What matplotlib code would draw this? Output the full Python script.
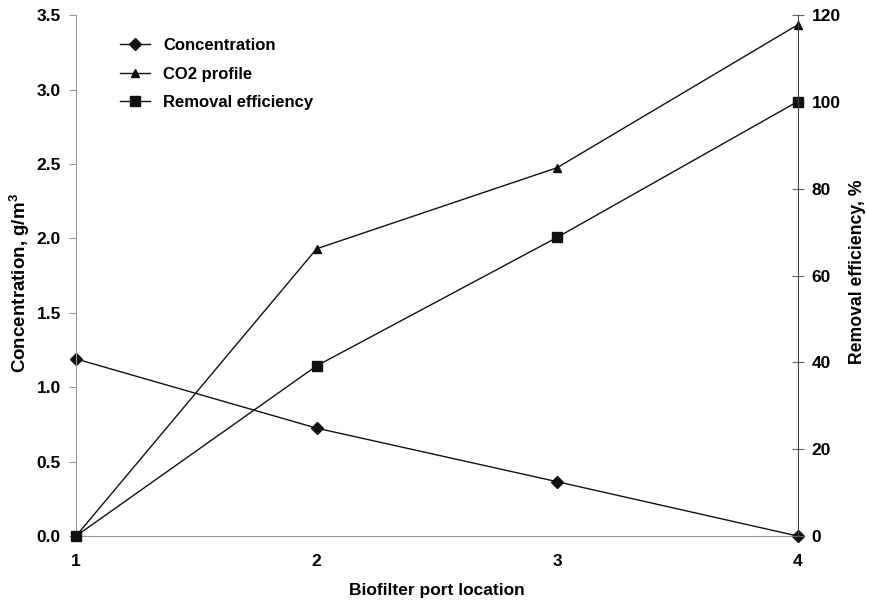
import matplotlib
matplotlib.use("Agg")
import matplotlib.pyplot as plt

plt.rcParams['font.family'] = ['Liberation Sans', 'DejaVu Sans']
plt.rcParams['font.weight'] = 'bold'
plt.rcParams['mathtext.default'] = 'regular'

ports = [1, 2, 3, 4]
concentration = [1.19, 0.725, 0.365, 0.0]
co2_profile = [0.0, 1.93, 2.475, 3.435]
removal_eff = [0.0, 39.2, 68.8, 100.1]

fig = plt.figure(figsize=(8.69, 6.05), dpi=100)
ax = fig.add_axes([0.0875, 0.114, 0.8305, 0.861])
ax2 = ax.twinx()

l1, = ax.plot(ports, concentration, color='#111111', lw=1.0, marker='D', ms=6, label='Concentration')
l2, = ax.plot(ports, co2_profile, color='#111111', lw=1.0, marker='^', ms=6, label='CO2 profile')
l3, = ax2.plot(ports, removal_eff, color='#111111', lw=1.0, marker='s', ms=7.5, label='Removal efficiency', clip_on=False)
for l in (l1, l2):
    l.set_clip_on(False)

ax.set_xlim(1, 4)
ax.set_ylim(0, 3.5)
ax2.set_ylim(0, 120)
ax.set_xticks(ports)
ax.set_yticks([0, 0.5, 1.0, 1.5, 2.0, 2.5, 3.0, 3.5])
ax.set_yticklabels([f"{v:.1f}" for v in [0, 0.5, 1.0, 1.5, 2.0, 2.5, 3.0, 3.5]])
ax2.set_yticks([0, 20, 40, 60, 80, 100, 120])

for a in (ax, ax2):
    a.spines['top'].set_visible(False)
ax.spines['right'].set_visible(False)
ax2.spines['left'].set_visible(False)
ax2.spines['bottom'].set_visible(False)
ax.spines['left'].set_color('#999999')
ax.spines['bottom'].set_color('#999999')
ax2.spines['right'].set_color('#444444')

ax.tick_params(axis='y', direction='out', length=5, color='#999999', labelsize=12.5, pad=6)
ax.tick_params(axis='x', length=0, labelsize=12.5, pad=13)
ax2.tick_params(axis='y', direction='inout', length=8, color='#666666', labelsize=12.5, pad=6)

ax.set_xlabel('Biofilter port location', fontsize=12.5, fontweight='bold', labelpad=10)
ax.set_ylabel('Concentration, g/m$^{3}$', fontsize=13.5, fontweight='bold')
ax.yaxis.set_label_coords(-0.061, 0.486)
ax2.set_ylabel('Removal efficiency, %', fontsize=12.7, fontweight='bold')
ax2.yaxis.set_label_coords(1.071, 0.508)

leg = ax.legend(handles=[l1, l2, l3], loc='upper left', bbox_to_anchor=(0.04, 0.985),
                frameon=False, fontsize=12, handlelength=1.8, labelspacing=0.82)

fig.savefig('out.png', dpi=100)
